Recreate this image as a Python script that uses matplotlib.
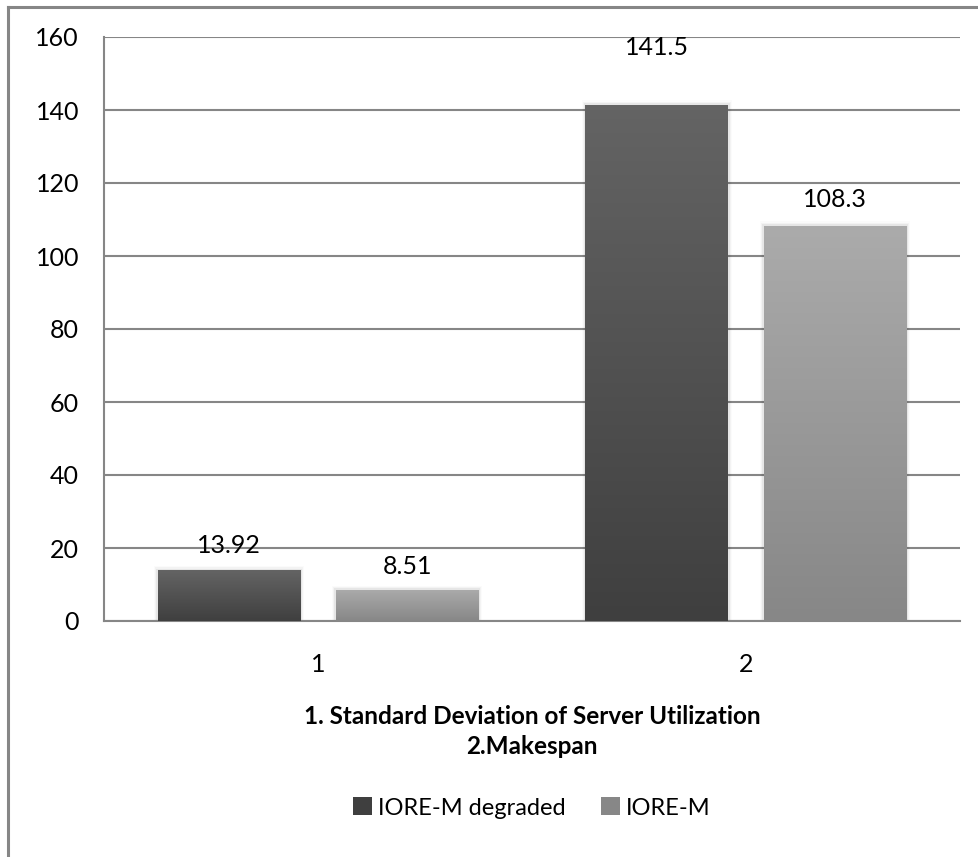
import matplotlib
matplotlib.use("Agg")
import matplotlib.pyplot as plt
import numpy as np
from matplotlib.patches import Rectangle
from matplotlib.lines import Line2D

categories = ["1", "2"]
series_names = ["IORE-M degraded", "IORE-M"]
degraded = [13.92, 141.5]
iore_m = [8.51, 108.3]
label_texts = [["13.92", "141.5"], ["8.51", "108.3"]]
yticks = [0, 20, 40, 60, 80, 100, 120, 140, 160]
xlabel_lines = ["1. Standard Deviation of Server Utilization", "2.Makespan"]

plt.rcParams['font.family'] = ['Lato', 'DejaVu Sans']

W, H = 979, 857
fig = plt.figure(figsize=(W / 100, H / 100), dpi=100)
fig.patch.set_facecolor('white')

# outer chart border (left and top)
fig.add_artist(Line2D([8 / W, 8 / W], [0, 1 - 7 / H], color='#868686', lw=2.2))
fig.add_artist(Line2D([8 / W, 1], [1 - 7 / H, 1 - 7 / H], color='#868686', lw=2.2))

ax = fig.add_axes([104 / W, (H - 621) / H, 856 / W, 584 / H])
ax.set_xlim(-0.5, 1.5)
ax.set_ylim(0, 160)
ax.set_yticks(yticks)
ax.yaxis.grid(True, color='#868686', lw=1.5)
ax.set_axisbelow(True)
for s in ['top', 'right']:
    ax.spines[s].set_visible(False)
for s in ['left', 'bottom']:
    ax.spines[s].set_color('#868686')
    ax.spines[s].set_linewidth(1.5)
ax.tick_params(axis='both', length=0, labelsize=18, colors='black')
ax.tick_params(axis='y', pad=18)
ax.tick_params(axis='x', pad=23)
ax.set_xticks(range(len(categories)))
ax.set_xticklabels(categories)

width = 0.334
offset = 0.208
gradients = [('#646464', '#3f3f3f'), ('#ababab', '#878787')]
series = [degraded, iore_m]
label_offsets = [[18, 41], [17, 19]]


def hex2rgb(h):
    return np.array([int(h[i:i + 2], 16) / 255 for i in (1, 3, 5)])


for si, vals in enumerate(series):
    top_c, bot_c = (hex2rgb(c) for c in gradients[si])
    grad = np.linspace(0, 1, 256)[:, None]
    img = top_c[None, None, :] * (1 - grad[:, :, None]) + bot_c[None, None, :] * grad[:, :, None]
    for ci, v in enumerate(vals):
        x0 = ci + (-offset if si == 0 else offset) - width / 2
        # soft shadow
        for k, a in enumerate([0.05, 0.03, 0.015]):
            sh = Rectangle((x0 - 0.003 * (k + 1), 0), width + 0.006 * (k + 1), v + 0.4 * (k + 1),
                           facecolor='black', alpha=a, edgecolor='none', zorder=2)
            ax.add_patch(sh)
        rect = Rectangle((x0, 0), width, v, facecolor='none', edgecolor='none', zorder=3)
        ax.add_patch(rect)
        im = ax.imshow(img, extent=(x0, x0 + width, 0, v), aspect='auto', zorder=3,
                       origin='upper')
        im.set_clip_path(rect)
        ax.annotate(label_texts[si][ci], (x0 + width / 2, v), xytext=(0, label_offsets[si][ci]),
                    textcoords='offset points', ha='center', va='center', fontsize=18,
                    color='black', zorder=5)
ax.set_xlim(-0.5, 1.5)
ax.set_ylim(0, 160)

# x-axis title (two lines)
cx = (104 + 856 / 2) / W
fig.text(cx, 1 - 716 / H, xlabel_lines[0], ha='center', va='center', fontsize=17.5,
         fontweight='bold')
fig.text(cx, 1 - 747 / H, xlabel_lines[1], ha='center', va='center', fontsize=17.5,
         fontweight='bold')

# legend
handles = [Rectangle((0, 0), 1, 1, facecolor=gradients[i][1], edgecolor='none') for i in range(2)]
fig.legend(handles, series_names, loc='center', bbox_to_anchor=(cx, 1 - 808 / H), ncol=2,
           frameon=False, fontsize=17, handlelength=0.8, handleheight=0.8,
           handletextpad=0.25, columnspacing=1.5)

fig.savefig('out.png', dpi=100)
